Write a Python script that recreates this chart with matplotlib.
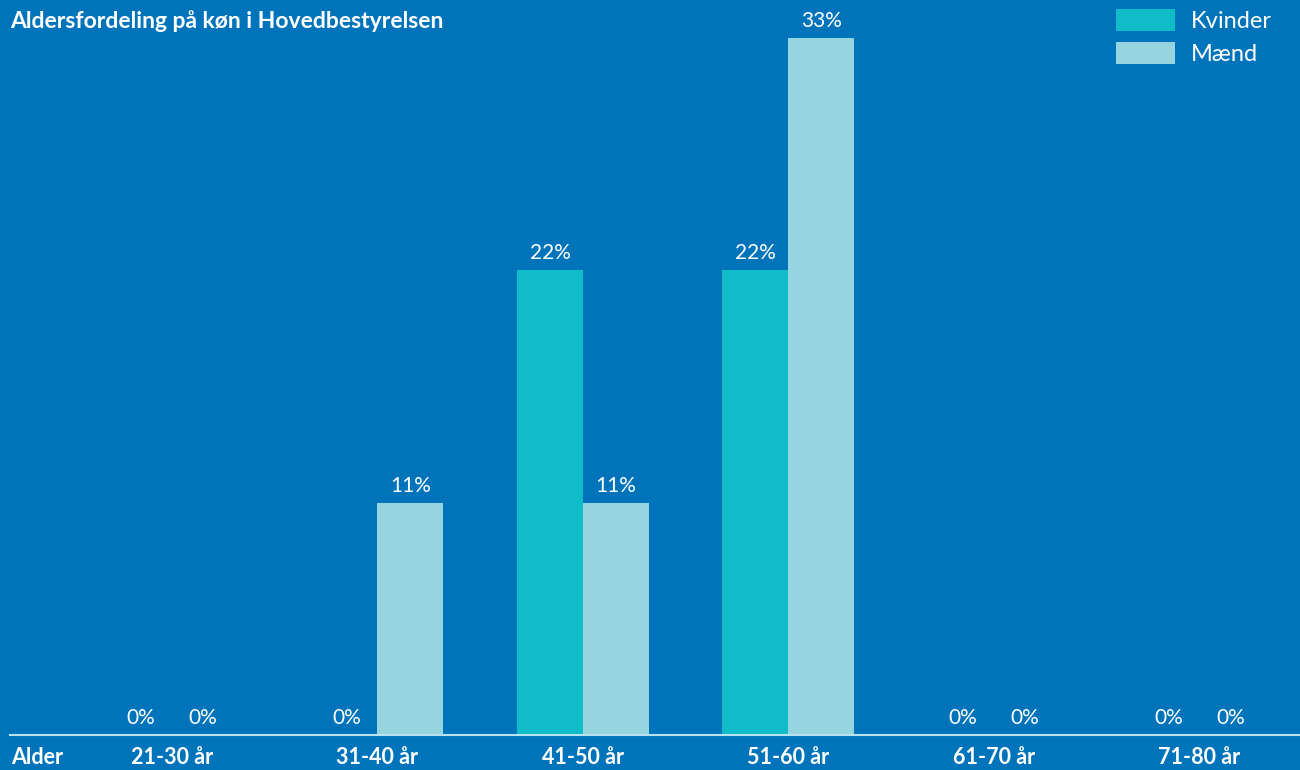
import numpy as np
import matplotlib.pyplot as plt

# data
categories = ["21-30 år", "31-40 år", "41-50 år", "51-60 år", "61-70 år", "71-80 år"]
kvinder = [0, 0, 22, 22, 0, 0]
maend = [0, 11, 11, 33, 0, 0]
series_names = ["Kvinder", "Mænd"]

bg = "#0074bb"
c_kvinder = "#0fbcc8"
c_maend = "#96d5e0"

plt.rcParams['font.family'] = ['Lato', 'DejaVu Sans']

fig = plt.figure(figsize=(13, 7.7), dpi=100, facecolor=bg)
ax = fig.add_axes([10/1300, 35/770, 1 - 10/1300, 1 - 35/770])
ax.set_facecolor(bg)

step = 205.5  # px per category
x = np.arange(len(categories))
w = 66/step
b1 = ax.bar(x - w/2, kvinder, w, color=c_kvinder, label=series_names[0])
b2 = ax.bar(x + w/2, maend, w, color=c_maend, label=series_names[1])

for bars, vals in ((b1, kvinder), (b2, maend)):
    for r, v in zip(bars, vals):
        # zero labels sit a bit closer to the group centre
        cx = r.get_x() + r.get_width()/2
        if v == 0:
            cx = cx - np.sign(cx - round(cx)) * 2/step
        ax.annotate(f"{v}%", (cx, v), xytext=(0, 5), textcoords="offset points",
                    ha="center", va="bottom", color="white", fontsize=15)

ax.set_xlim(-162/step, (1300 - 172)/step)
ax.set_ylim(0, 735/21.12)

for s in ["top", "right", "left"]:
    ax.spines[s].set_visible(False)
ax.spines["bottom"].set_color("#b8e2f0")
ax.spines["bottom"].set_linewidth(1.5)
ax.set_yticks([])
ax.set_xticks(x)
ax.set_xticklabels(categories, color="white", fontsize=15.5, fontweight="bold")
ax.tick_params(axis="x", length=0, pad=9)

fig.text(10/1300, 1 - 21/770, "Aldersfordeling på køn i Hovedbestyrelsen",
         color="white", fontsize=16.5, fontweight="bold", va="center", ha="left")
fig.text(11/1300, 1 - 758/770, "Alder", color="white", fontsize=15.5,
         fontweight="bold", va="center", ha="left")

leg = fig.legend(handles=[b1, b2], labels=series_names, loc="upper left",
                 bbox_to_anchor=(1116/1300, 1 - 9/770),
                 frameon=False, fontsize=17, handlelength=2.5, handleheight=1.05,
                 labelspacing=0.42, handletextpad=0.68, borderpad=0,
                 borderaxespad=0)
for t in leg.get_texts():
    t.set_color("white")

fig.savefig("out.png", dpi=100, facecolor=bg)
